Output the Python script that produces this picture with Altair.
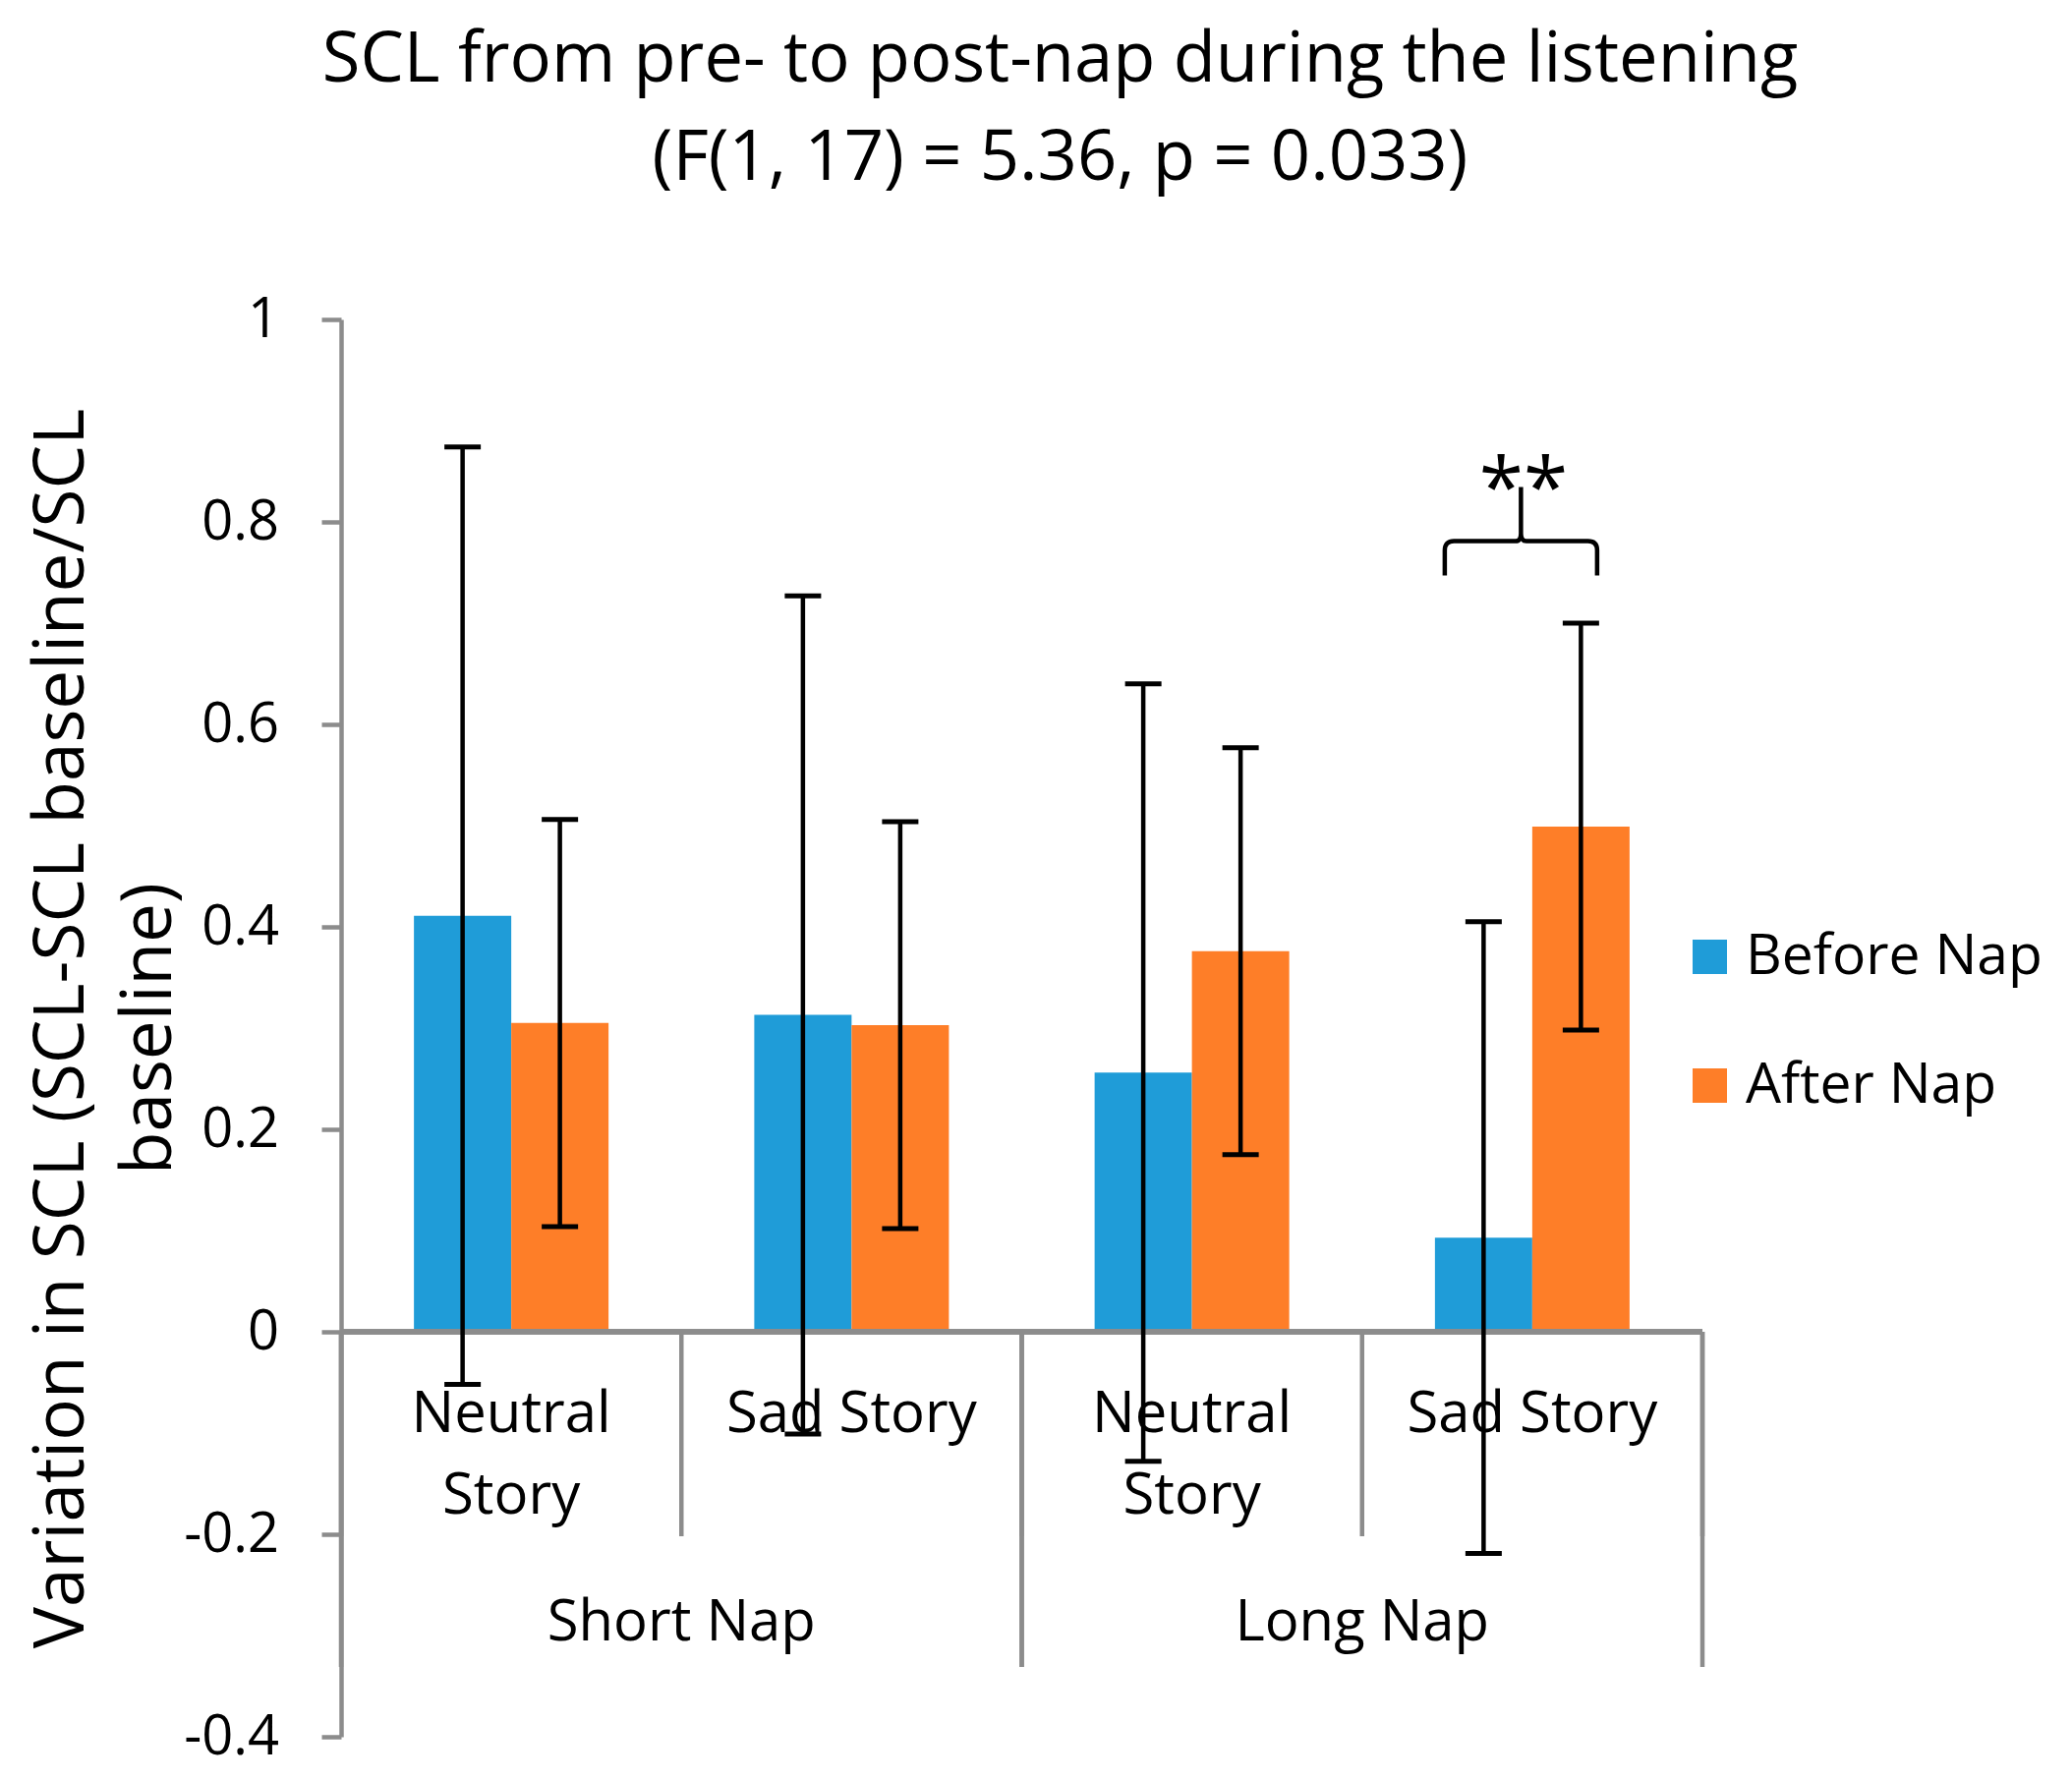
import altair as alt
import pandas as pd

# ---------------- data ----------------
groups = ["Short Nap", "Short Nap", "Long Nap", "Long Nap"]
stories = ["Neutral Story", "Sad Story", "Neutral Story", "Sad Story"]
series = ["Before Nap", "After Nap"]
before_mean = [0.411, 0.313, 0.256, 0.093]
before_err = [0.463, 0.414, 0.384, 0.312]
after_mean = [0.305, 0.303, 0.376, 0.499]
after_err = [0.201, 0.201, 0.201, 0.201]
y_ticks = [1, 0.8, 0.6, 0.4, 0.2, 0, -0.2, -0.4]
group_order = ["Short Nap", "Long Nap"]
colors = ["#1F9CD8", "#FE7E28"]

title_lines = ["SCL from pre- to post-nap during the listening",
               "(F(1, 17) = 5.36, p = 0.033)"]
y_title = ["Variation in SCL (SCL-SCL baseline/SCL", "baseline)"]

sig_index = 3          # Long Nap / Sad Story
sig_text = "**"

# ---------------- tables ----------------
rows = []
for i in range(len(groups)):
    for j, (s, m, e) in enumerate(((series[0], before_mean[i], before_err[i]),
                                   (series[1], after_mean[i], after_err[i]))):
        rows.append(dict(idx=i, side=j, group=groups[i], story=stories[i],
                         series=s, mean=m, low=m - e, high=m + e))
df = pd.DataFrame(rows)

cats = pd.DataFrame(dict(
    idx=list(range(len(stories))),
    label=[s.replace(" ", "\n") if len(s) > 10 else s for s in stories],
))
bounds = pd.DataFrame(dict(pos=list(range(len(stories) + 1))))
grp_pos = []
for g in group_order:
    members = [i for i, gg in enumerate(groups) if gg == g]
    grp_pos.append(dict(group=g, start=min(members), end=max(members) + 1))
grp = pd.DataFrame(grp_pos)
ann = pd.DataFrame([dict(idx=sig_index, text=sig_text)])

# ---------------- styling ----------------
FONT = "Open Sans"
GRAY = "#8C8C8C"
W, H = 1385, 1442
STEP = W / len(stories)            # pixels per category
YMIN, YMAX = -0.4, 1.0
BAR_W = 99 / STEP                  # bar width in category units
CAP_W = 37 / STEP                  # error-bar cap width in category units
CAT_LABEL_Y = -0.099               # baseline of first line of category labels
CAT_SEP_Y = -0.202                 # lower end of inner separators
GRP_SEP_Y = -0.331                 # lower end of group separators
GRP_LABEL_Y = -0.305               # baseline of group labels
BRACE_Y = 0.781                    # level of the brace's horizontal stroke
STAR_Y = 0.806                     # baseline of the asterisks
BRACE_DX = -11.5 / STEP
STAR_DX = -9 / STEP
BRACE_W = 155                      # brace width in pixels

x_scale = alt.Scale(domain=[0, len(stories)], nice=False, zero=False)
y_scale = alt.Scale(domain=[YMIN, YMAX], nice=False, zero=False)
y_axis = alt.Axis(
    values=y_ticks, format="~g",
    labelExpr="replace(datum.label, '\u2212', '-')",
    title=y_title, titleFont=FONT, titleFontSize=71,
    titleFontWeight="normal", titleColor="black", titleLineHeight=89,
    titleX=-263, titleY=H / 2, titleAngle=270, titleBaseline="alphabetic",
    titleAlign="center",
    labelFont=FONT, labelFontSize=56, labelColor="black", labelPadding=43.5,
    domainColor=GRAY, domainWidth=4.5, tickColor=GRAY, tickWidth=4.5,
    tickSize=20, grid=False,
)


def X(field):
    return alt.X(f"{field}:Q", scale=x_scale, axis=None)


def Y(field):
    return alt.Y(f"{field}:Q", scale=y_scale, axis=y_axis)


legend = alt.Legend(title=None, orient="none", legendX=1364, legendY=620,
                    direction="vertical", padding=0,
                    labelFont=FONT, labelFontSize=57, labelLimit=0,
                    labelColor="black", symbolType="square", symbolSize=1225,
                    symbolStrokeWidth=0, rowPadding=73, labelOffset=8)

base = alt.Chart(df).transform_calculate(
    x0=f"datum.idx + 0.5 + (datum.side - 1) * {BAR_W}",
    x1=f"datum.idx + 0.5 + datum.side * {BAR_W}",
    xc=f"datum.idx + 0.5 + (datum.side - 0.5) * {BAR_W}",
    c0=f"datum.idx + 0.5 + (datum.side - 0.5) * {BAR_W} - {CAP_W / 2}",
    c1=f"datum.idx + 0.5 + (datum.side - 0.5) * {BAR_W} + {CAP_W / 2}",
)
bars = base.mark_bar().encode(
    x=X("x0"), x2="x1", y=Y("mean"), y2=alt.datum(0),
    color=alt.Color("series:N", scale=alt.Scale(domain=series, range=colors),
                    legend=legend),
)
zero_line = alt.Chart(bounds).mark_rule(color=GRAY, strokeWidth=5).encode(
    y=alt.datum(0))
rules = base.mark_rule(color="black", strokeWidth=4.5).encode(
    x=X("xc"), y=Y("low"), y2="high")
cap_lo = base.mark_rule(color="black", strokeWidth=5).encode(
    x=X("c0"), x2="c1", y=Y("low"))
cap_hi = base.mark_rule(color="black", strokeWidth=5).encode(
    x=X("c0"), x2="c1", y=Y("high"))

cat_sep = alt.Chart(bounds).mark_rule(color=GRAY, strokeWidth=4.5).encode(
    x=X("pos"), y=alt.datum(0), y2=alt.datum(CAT_SEP_Y))
grp_sep = alt.Chart(grp).transform_fold(["start", "end"], as_=["k", "pos"]).mark_rule(
    color=GRAY, strokeWidth=4.5).encode(
    x=X("pos"), y=alt.datum(0), y2=alt.datum(GRP_SEP_Y))
cat_text = alt.Chart(cats).transform_calculate(xm="datum.idx + 0.5").mark_text(
    font=FONT, fontSize=58, color="black", align="center", baseline="alphabetic",
    lineBreak="\n", lineHeight=83,
).encode(x=X("xm"), y=alt.datum(CAT_LABEL_Y), text="label:N")
grp_text = alt.Chart(grp).transform_calculate(xm="(datum.start + datum.end) / 2").mark_text(
    font=FONT, fontSize=58, color="black", align="center", baseline="alphabetic",
).encode(x=X("xm"), y=alt.datum(GRP_LABEL_Y), text="group:N")

BRACE = ("M -1 0.45 L -1 0.12 Q -1 0 -0.88 0 L -0.07 0 Q 0 0 0 -0.1 L 0 -0.71 "
         "M 0 -0.1 Q 0 0 0.07 0 L 0.88 0 Q 1 0 1 0.12 L 1 0.45")
brace = alt.Chart(ann).transform_calculate(xm=f"datum.idx + 0.5 + {BRACE_DX}").mark_point(
    shape=BRACE, size=BRACE_W ** 2, filled=False, color="black", strokeWidth=4.5,
    opacity=1,
).encode(x=X("xm"), y=alt.datum(BRACE_Y))
stars = alt.Chart(ann).transform_calculate(xm=f"datum.idx + 0.5 + {STAR_DX}").mark_text(
    font=FONT, fontSize=82, color="black", align="center", baseline="alphabetic",
).encode(x=X("xm"), y=alt.datum(STAR_Y), text="text:N")

chart = alt.layer(
    bars, zero_line, rules, cap_lo, cap_hi, cat_sep, grp_sep, cat_text, grp_text,
    brace, stars,
).properties(
    width=W, height=H,
    title=alt.Title(text=title_lines, font=FONT, fontSize=70.5, fontWeight="normal",
                    color="black", anchor="middle", frame="group", dx=39,
                    lineHeight=100, offset=100),
    padding={"left": 18, "top": 18, "right": 5, "bottom": 5},
).configure_view(stroke=None)

chart.save("out.html", embed_options={"renderer": "svg", "actions": False})
